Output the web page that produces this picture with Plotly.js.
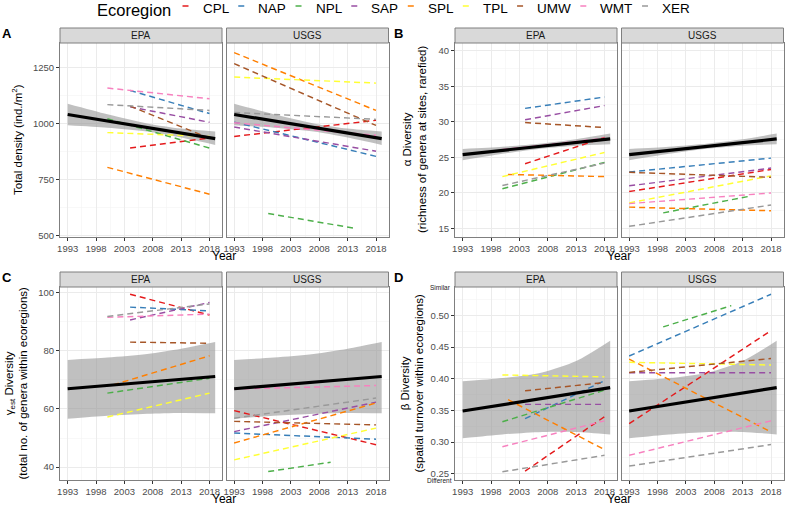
<!DOCTYPE html>
<html>
<head>
<meta charset="utf-8">
<script src="https://cdn.plot.ly/plotly-3.0.1.min.js"></script>
<style>
  html, body { margin: 0; padding: 0; background: #fff; }
  #chart { width: 785px; height: 505px; }
</style>
</head>
<body>
<div id="chart"></div>
<script>
// ecoregions and their colours (Set1)
const ecoregions = ["CPL", "NAP", "NPL", "SAP", "SPL", "TPL", "UMW", "WMT", "XER"];
const ecoColors = ["#E41A1C", "#377EB8", "#4DAF4A", "#984EA3", "#FF7F00", "#FFFF33", "#A65628", "#F781BF", "#999999"];
const facets = ["EPA", "USGS"];
const yearTicks = [1993, 1998, 2003, 2008, 2013, 2018];

// A - total density, [start, end] year and value per ecoregion
const densEpaYears = [[2004, 2018], [2004, 2018], [2000, 2018], [2004, 2018], [2000, 2018], [2000, 2018], [2004, 2018], [2000, 2018], [2000, 2018]];
const densEpaVals = [[891, 936], [1148, 1045], [1022, 891], [1075, 1006], [805, 685], [960, 943], [1078, 935], [1159, 1111], [1085, 1059]];
const densUsgsYears = [[1993, 2018], [1993, 2018], [1999, 2014], [1993, 2018], [1993, 2018], [1993, 2018], [1993, 2018], [1993, 2018], [1993, 2018]];
const densUsgsVals = [[943, 1015], [1007, 854], [599, 534], [985, 877], [1317, 1059], [1208, 1181], [1268, 992], [1004, 948], [1050, 1019]];

// B - alpha diversity
const alphaEpaYears = [[2004, 2018], [2004, 2018], [2000, 2018], [2004, 2018], [2001, 2018], [2000, 2018], [2004, 2018], [2000, 2018], [2000, 2018]];
const alphaEpaVals = [[24.1, 27.8], [31.9, 33.5], [20.6, 24.3], [30.3, 32.3], [22.6, 22.3], [22.3, 25.7], [29.9, 29.2], [26.1, 27.7], [21.05, 24.2]];
const alphaUsgsYears = [[1993, 2018], [1993, 2018], [1999, 2014], [1993, 2018], [1993, 2018], [1993, 2018], [1993, 2018], [1993, 2018], [1993, 2018]];
const alphaUsgsVals = [[20.2, 23.3], [22.94, 24.9], [17.2, 19.5], [21.0, 23.5], [18.0, 17.5], [18.6, 22.4], [22.9, 22.2], [18.5, 20.0], [15.3, 18.3]];

// C - gamma diversity
const gammaEpaYears = [[2004, 2018], [2004, 2018], [2000, 2018], [2004, 2018], [2001, 2018], [2000, 2018], [2004, 2018], [2000, 2018], [2000, 2018]];
const gammaEpaVals = [[99.3, 92.2], [94.9, 93.6], [65.4, 70.5], [90.5, 96.5], [68.2, 78.2], [57.2, 65.4], [82.9, 82.5], [91.4, 92.5], [91.7, 96.0]];
const gammaUsgsYears = [[1993, 2018], [1993, 2018], [1999, 2010], [1993, 2018], [1993, 2018], [1993, 2018], [1993, 2018], [1993, 2018], [1993, 2018]];
const gammaUsgsVals = [[59.4, 47.7], [51.7, 49.6], [38.5, 41.7], [52.2, 62.3], [48.3, 62.0], [42.5, 53.4], [55.7, 54.5], [66.8, 68.0], [56.8, 63.7]];

// D - beta diversity
const betaEpaYears = [[2004, 2018], [2004, 2018], [2000, 2018], [2004, 2018], [2001, 2018], [2000, 2018], [2004, 2018], [2000, 2018], [2000, 2018]];
const betaEpaVals = [[0.254, 0.340], [0.337, 0.397], [0.332, 0.382], [0.3595, 0.3595], [0.367, 0.288], [0.406, 0.403], [0.381, 0.394], [0.2925, 0.3335], [0.253, 0.279]];
const betaUsgsYears = [[1993, 2018], [1993, 2018], [1999, 2011], [1993, 2018], [1993, 2018], [1993, 2018], [1993, 2018], [1993, 2018], [1993, 2018]];
const betaUsgsVals = [[0.329, 0.476], [0.436, 0.5335], [0.482, 0.5155], [0.4095, 0.4095], [0.431, 0.316], [0.426, 0.4217], [0.410, 0.432], [0.279, 0.3335], [0.262, 0.296]];

// overall fits with confidence band (same in both facets)
const fitYears = [1993, 2000, 2007, 2013, 2019];
const densFit = [1041, 1012, 983, 958, 933];
const densUpper = [1089, 1042, 1001, 978, 965];
const densLower = [993, 982, 965, 938, 905];
const alphaFit = [25.4, 26.0, 26.6, 27.1, 27.6];
const alphaUpper = [26.2, 26.5, 26.95, 27.55, 28.35];
const alphaLower = [24.6, 25.5, 26.25, 26.65, 26.85];
const gammaFit = [66.9, 68.0, 69.2, 70.2, 71.1];
const gammaUpper = [76.8, 77.6, 78.8, 80.6, 82.9];
const gammaLower = [56.6, 57.6, 58.3, 58.6, 58.5];
const betaFit = [0.349, 0.359, 0.369, 0.377, 0.386];
const betaUpper = [0.396, 0.401, 0.410, 0.428, 0.460];
const betaLower = [0.306, 0.312, 0.316, 0.316, 0.312];

// ---- layout helpers (pixel -> paper) ----
const W = 785, H = 505;
const px = v => v / W;
const py = v => 1 - v / H;

const panels = [
  { label: "A", cols: [[60, 222], [226.5, 388.5]], rows: [43, 237], range: [494, 1360], dtick: 250, minor: 125, fmt: "",
    data: [[densEpaYears, densEpaVals], [densUsgsYears, densUsgsVals]], fit: densFit, upper: densUpper, lower: densLower,
    title: "Total density (ind./m<sup>2</sup>)", titleX: 17 },
  { label: "B", cols: [[455, 617], [621.5, 783.5]], rows: [43, 237], range: [13.8, 41.1], dtick: 5, minor: 2.5, fmt: "",
    data: [[alphaEpaYears, alphaEpaVals], [alphaUsgsYears, alphaUsgsVals]], fit: alphaFit, upper: alphaUpper, lower: alphaLower,
    title: "α Diversity<br>(richness of genera at sites, rarefied)", titleX: 414 },
  { label: "C", cols: [[60, 222], [226.5, 388.5]], rows: [287, 480], range: [35.6, 101.8], dtick: 20, minor: 10, fmt: "",
    data: [[gammaEpaYears, gammaEpaVals], [gammaUsgsYears, gammaUsgsVals]], fit: gammaFit, upper: gammaUpper, lower: gammaLower,
    title: "γ<sub>est</sub> Diversity<br>(total no. of genera within ecoregions)", titleX: 16 },
  { label: "D", cols: [[455, 617], [621.5, 783.5]], rows: [287, 480], range: [0.24, 0.545], dtick: 0.05, minor: 0.025, fmt: ".2f",
    data: [[betaEpaYears, betaEpaVals], [betaUsgsYears, betaUsgsVals]], fit: betaFit, upper: betaUpper, lower: betaLower,
    title: "β Diversity<br>(spatial turnover within ecoregions)", titleX: 412 }
];

const borderColor = "#7F7F7F";
const tickFont = { size: 9.5, color: "#4D4D4D" };
const traces = [];
const shapes = [];
const annotations = [];
const layout = {
  width: W, height: H,
  margin: { l: 0, r: 0, t: 0, b: 0 },
  paper_bgcolor: "#fff", plot_bgcolor: "#fff",
  font: { family: "Liberation Sans, Arial, sans-serif", color: "#000" },
  showlegend: false
};

let k = 0;
panels.forEach(p => {
  facets.forEach((facet, f) => {
    k++;
    const xa = k === 1 ? "x" : "x" + k;
    const ya = k === 1 ? "y" : "y" + k;
    const xName = k === 1 ? "xaxis" : "xaxis" + k;
    const yName = k === 1 ? "yaxis" : "yaxis" + k;
    const [c0, c1] = p.cols[f];
    const [r0, r1] = p.rows;

    layout[xName] = {
      domain: [px(c0), px(c1)], anchor: ya, range: [1991.65, 2020.2],
      tickvals: yearTicks, ticks: "outside", ticklen: 3, tickcolor: "#333", tickfont: tickFont,
      showgrid: true, gridcolor: "#EBEBEB", gridwidth: 1,
      minor: { dtick: 2.5, tick0: 1993, showgrid: true, gridcolor: "#F4F4F4", gridwidth: 0.6 },
      showline: true, mirror: true, linecolor: borderColor, linewidth: 1, zeroline: false
    };
    layout[yName] = {
      domain: [py(r1), py(r0)], anchor: xa, range: p.range,
      dtick: p.dtick, tick0: 0, tickformat: p.fmt,
      ticks: f === 0 ? "outside" : "", ticklen: 3, tickcolor: "#333",
      showticklabels: f === 0, tickfont: tickFont,
      showgrid: true, gridcolor: "#EBEBEB", gridwidth: 1,
      minor: { dtick: p.minor, showgrid: true, gridcolor: "#F4F4F4", gridwidth: 0.6 },
      showline: true, mirror: true, linecolor: borderColor, linewidth: 1, zeroline: false
    };

    // confidence band: lower edge, then upper edge filled down to it
    traces.push({
      x: fitYears, y: p.lower, xaxis: xa, yaxis: ya, type: "scatter", mode: "lines",
      line: { width: 0, shape: "spline", smoothing: 0.8 }, hoverinfo: "skip"
    });
    traces.push({
      x: fitYears, y: p.upper, xaxis: xa, yaxis: ya, type: "scatter", mode: "lines",
      fill: "tonexty", fillcolor: "rgba(153,153,153,0.62)",
      line: { width: 0, shape: "spline", smoothing: 0.8 }, hoverinfo: "skip"
    });
    // ecoregion trends
    const [yrs, vals] = p.data[f];
    ecoregions.forEach((eco, i) => {
      traces.push({
        x: yrs[i], y: vals[i], name: eco,
        xaxis: xa, yaxis: ya, type: "scatter", mode: "lines",
        line: { color: ecoColors[i], width: 1.45, dash: "6px,4px" }
      });
    });
    // overall trend
    traces.push({
      x: fitYears, y: p.fit, xaxis: xa, yaxis: ya, type: "scatter", mode: "lines",
      line: { color: "#000", width: 3.2 }, hoverinfo: "skip"
    });

    // facet strip
    shapes.push({
      type: "rect", xref: "paper", yref: "paper",
      x0: px(c0), x1: px(c1), y0: py(r0), y1: py(r0 - 15),
      fillcolor: "#D9D9D9", line: { color: borderColor, width: 1 }
    });
    annotations.push({
      text: facet, xref: "paper", yref: "paper", x: px((c0 + c1) / 2), y: py(r0 - 7.5),
      xanchor: "center", yanchor: "middle", showarrow: false, font: { size: 10, color: "#1A1A1A" }
    });
  });

  const left = p.cols[0][0], right = p.cols[1][1];
  const [r0, r1] = p.rows;
  // panel letter
  annotations.push({
    text: "<b>" + p.label + "</b>", xref: "paper", yref: "paper",
    x: px(left < 100 ? 6.5 : 398.5), y: py(r0 - 10), xanchor: "center", yanchor: "middle",
    showarrow: false, font: { size: 13, color: "#000" }
  });
  // y title
  annotations.push({
    text: p.title, xref: "paper", yref: "paper", x: px(p.titleX), y: py((r0 + r1) / 2),
    xanchor: "center", yanchor: "middle", textangle: -90, showarrow: false,
    font: { size: 11.5, color: "#000" }
  });
  // x title
  annotations.push({
    text: "Year", xref: "paper", yref: "paper", x: px((left + right) / 2), y: py(r1 + 18.5),
    xanchor: "center", yanchor: "middle", showarrow: false, font: { size: 12, color: "#000" }
  });
});

// "Similar" / "Different" markers on the beta axis
annotations.push({
  text: "Similar", xref: "paper", yref: "y7", x: px(453), y: 0.545, xanchor: "right", yanchor: "middle",
  showarrow: false, font: { size: 6.5, color: "#1A1A1A" }
});
annotations.push({
  text: "Different", xref: "paper", yref: "y7", x: px(454), y: 0.24, xanchor: "right", yanchor: "middle",
  showarrow: false, font: { size: 6.5, color: "#1A1A1A" }
});

// legend on top
annotations.push({
  text: "Ecoregion", xref: "paper", yref: "paper", x: px(95), y: py(9.5),
  xanchor: "left", yanchor: "middle", showarrow: false, font: { size: 16.5, color: "#000" }
});
const ctx = document.createElement("canvas").getContext("2d");
ctx.font = '13.5px "Liberation Sans", Arial, sans-serif';
let cursor = 182.5;
ecoregions.forEach((eco, i) => {
  shapes.push({
    type: "line", xref: "paper", yref: "paper",
    x0: px(cursor), x1: px(cursor + 6), y0: py(6), y1: py(6),
    line: { color: ecoColors[i], width: 1.5 }
  });
  annotations.push({
    text: eco, xref: "paper", yref: "paper", x: px(cursor + 18), y: py(8),
    xanchor: "left", yanchor: "middle", showarrow: false, font: { size: 13.5, color: "#000" }
  });
  cursor += 19 + ctx.measureText(eco).width + 10.5;
});

layout.shapes = shapes;
layout.annotations = annotations;

Plotly.newPlot("chart", traces, layout, { staticPlot: true, displayModeBar: false });
</script>
</body>
</html>
